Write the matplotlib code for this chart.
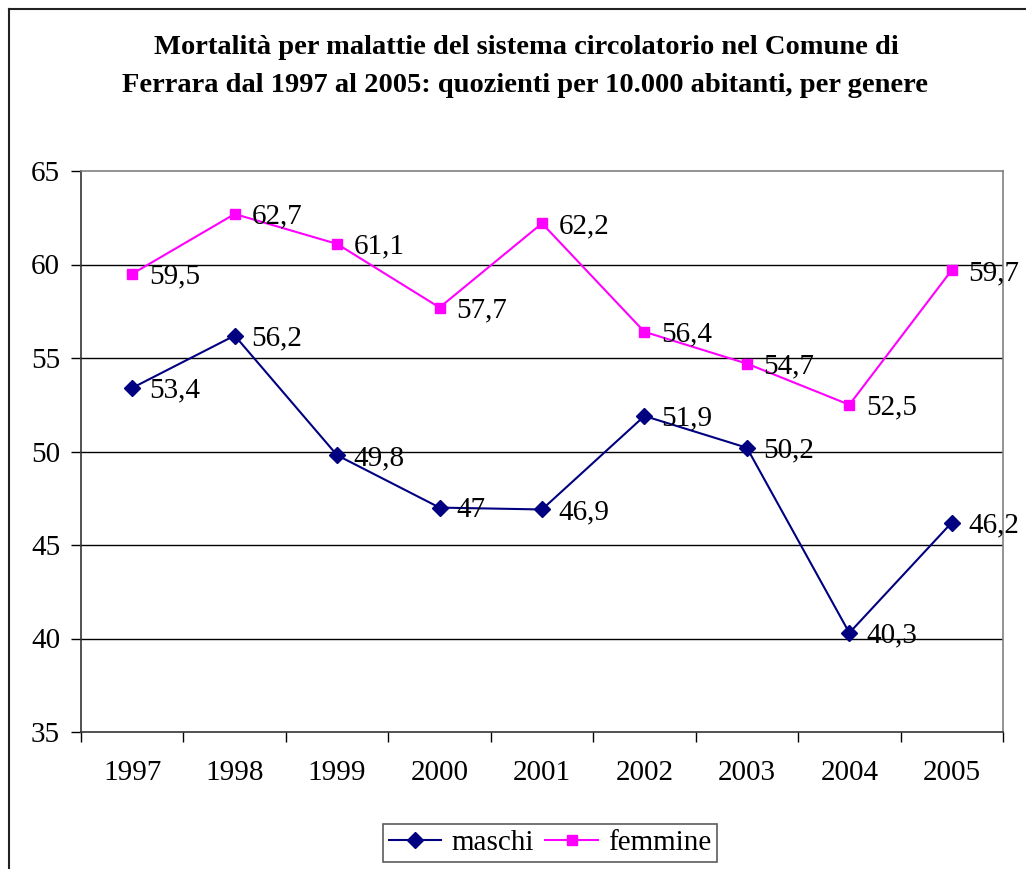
import matplotlib.pyplot as plt
from matplotlib.lines import Line2D

# Data
years = ['1997', '1998', '1999', '2000', '2001', '2002', '2003', '2004', '2005']
maschi = [53.4, 56.2, 49.8, 47.0, 46.9, 51.9, 50.2, 40.3, 46.2]
femmine = [59.5, 62.7, 61.1, 57.7, 62.2, 56.4, 54.7, 52.5, 59.7]

plt.rcParams['font.family'] = ['Liberation Serif', 'DejaVu Serif']

W, H = 1026, 869
fig = plt.figure(figsize=(W / 100, H / 100), dpi=100)

# outer chart border (cropped on right and bottom)
fig.add_artist(Line2D([8.5 / W, 8.5 / W], [0, 1 - 8.5 / H], transform=fig.transFigure,
                      color='#222222', lw=1.5))
fig.add_artist(Line2D([8.5 / W, 1], [1 - 8.5 / H, 1 - 8.5 / H], transform=fig.transFigure,
                      color='#222222', lw=1.5))

fig.text(526 / W, 1 - 48 / H, "Mortalità per malattie del sistema circolatorio nel Comune di",
         ha='center', va='center', fontsize=20.5, fontweight='bold')
fig.text(525 / W, 1 - 86 / H, "Ferrara dal 1997 al 2005: quozienti per 10.000 abitanti, per genere",
         ha='center', va='center', fontsize=20.5, fontweight='bold')

left, right, top, bottom = 81, 1003, 171, 732
ax = fig.add_axes([left / W, 1 - bottom / H, (right - left) / W, (bottom - top) / H])

x = list(range(len(years)))
ax.plot(x, maschi, color='#000080', lw=1.5, marker='D', markersize=8, label='maschi', zorder=3)
ax.plot(x, femmine, color='#FF00FF', lw=1.5, marker='s', markersize=7.5, label='femmine', zorder=3)

def fmt(v):
    return '{:g}'.format(v).replace('.', ',')

for xi, v in zip(x, maschi):
    ax.annotate(fmt(v), xy=(xi, v), xytext=(12, -2), textcoords='offset points',
                va='center', ha='left', fontsize=21)
for xi, v in zip(x, femmine):
    ax.annotate(fmt(v), xy=(xi, v), xytext=(12, -2), textcoords='offset points',
                va='center', ha='left', fontsize=21)

ax.set_xlim(-0.5, len(years) - 0.5)
ax.set_ylim(35, 65)
ax.set_yticks(range(35, 66, 5))
ax.set_xticks([i - 0.5 for i in range(len(years) + 1)])
ax.set_xticklabels([])
ax.set_xticks(x, minor=True)
ax.set_xticklabels(years, minor=True)
ax.tick_params(axis='x', which='major', direction='out', length=7, width=1)
ax.tick_params(axis='x', which='minor', length=0, pad=20, labelsize=21)
ax.tick_params(axis='y', direction='out', length=7, width=1, pad=8, labelsize=21)

for g in range(40, 65, 5):
    ax.axhline(g, color='black', lw=1, zorder=1)

ax.spines['top'].set_color('#808080')
ax.spines['right'].set_color('#808080')
ax.spines['left'].set_color('#333333')
ax.spines['bottom'].set_color('#333333')
for s in ax.spines.values():
    s.set_linewidth(1.2)

leg = fig.legend(loc='center', bbox_to_anchor=(550 / W, 1 - 843 / H), ncol=2, fontsize=21,
                 frameon=True, fancybox=False, edgecolor='#333333', handlelength=1.8,
                 columnspacing=0.4, handletextpad=0.35, borderpad=0.2, borderaxespad=0)
leg.get_frame().set_linewidth(1.2)

fig.savefig('out.png', dpi=100)
